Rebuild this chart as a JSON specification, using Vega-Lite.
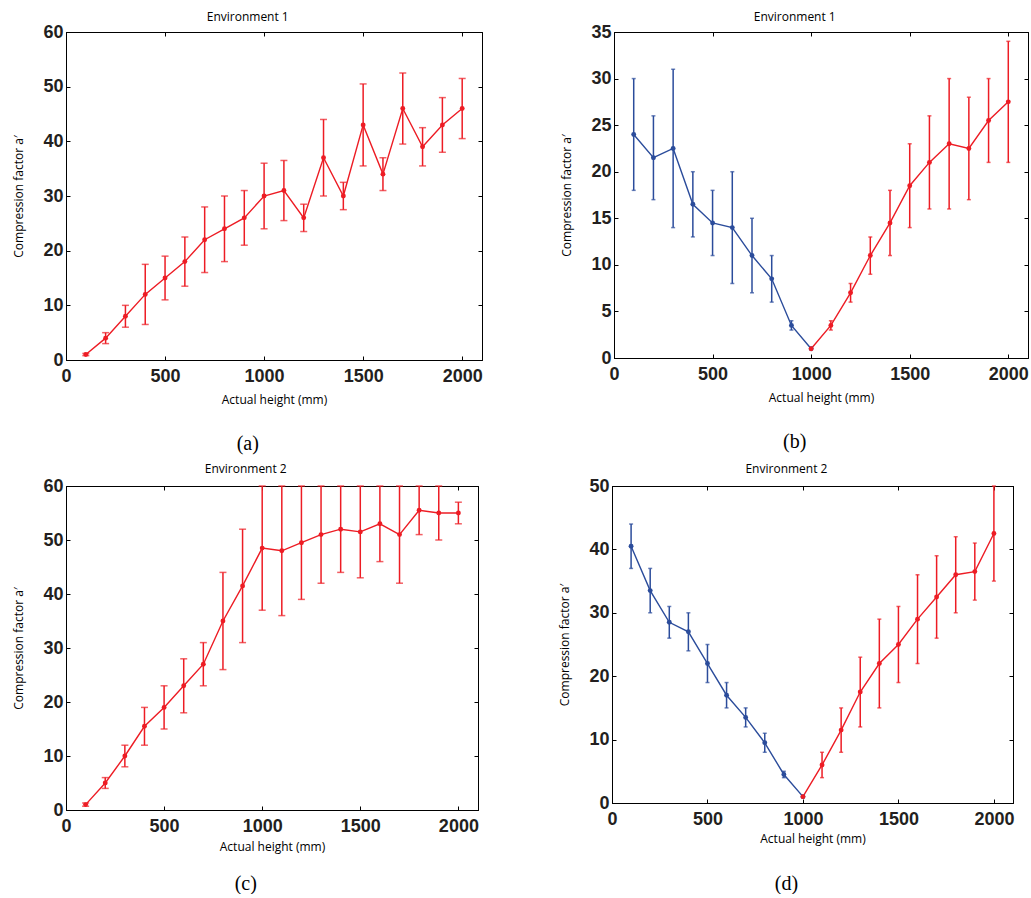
{
  "$schema": "https://vega.github.io/schema/vega-lite/v6.json",
  "background": "white",
  "padding": {"left": 12, "top": 10, "right": 0, "bottom": 0},
  "config": {
    "view": {"stroke": "#000", "strokeWidth": 1},
    "axis": {"domainColor": "#000", "tickColor": "#000", "domainWidth": 1, "tickWidth": 1, "grid": false,
      "labelFont": "Liberation Sans", "labelFontWeight": "bold", "labelFontSize": 18, "labelColor": "#231f20",
      "titleFont": "Open Sans", "titleFontSize": 12, "titleFontWeight": "normal", "titleColor": "#000",
      "tickSize": -4, "labelFlush": false, "labelOverlap": false, "format": "d"},
    "axisX": {"labelPadding": 11, "titlePadding": 9},
    "axisY": {"labelPadding": 7, "titlePadding": 17},
    "axisTop": {"minExtent": 0, "maxExtent": 0, "labels": false, "title": null},
    "axisRight": {"minExtent": 0, "maxExtent": 0, "labels": false, "title": null},
    "title": {"font": "Open Sans", "fontSize": 12, "fontWeight": "normal", "color": "#000", "frame": "bounds", "anchor": "middle"}
  },
  "datasets": {
    "a": [
      {"h": 100, "v": 1, "lo": 0.8, "hi": 1.2},
      {"h": 200, "v": 4, "lo": 3, "hi": 5},
      {"h": 300, "v": 8, "lo": 6, "hi": 10},
      {"h": 400, "v": 12, "lo": 6.5, "hi": 17.5},
      {"h": 500, "v": 15, "lo": 11, "hi": 19},
      {"h": 600, "v": 18, "lo": 13.5, "hi": 22.5},
      {"h": 700, "v": 22, "lo": 16, "hi": 28},
      {"h": 800, "v": 24, "lo": 18, "hi": 30},
      {"h": 900, "v": 26, "lo": 21, "hi": 31},
      {"h": 1000, "v": 30, "lo": 24, "hi": 36},
      {"h": 1100, "v": 31, "lo": 25.5, "hi": 36.5},
      {"h": 1200, "v": 26, "lo": 23.5, "hi": 28.5},
      {"h": 1300, "v": 37, "lo": 30, "hi": 44},
      {"h": 1400, "v": 30, "lo": 27.5, "hi": 32.5},
      {"h": 1500, "v": 43, "lo": 35.5, "hi": 50.5},
      {"h": 1600, "v": 34, "lo": 31, "hi": 37},
      {"h": 1700, "v": 46, "lo": 39.5, "hi": 52.5},
      {"h": 1800, "v": 39, "lo": 35.5, "hi": 42.5},
      {"h": 1900, "v": 43, "lo": 38, "hi": 48},
      {"h": 2000, "v": 46, "lo": 40.5, "hi": 51.5}
    ],
    "b": [
      {"s": "blue", "h": 100, "v": 24, "lo": 18, "hi": 30},
      {"s": "blue", "h": 200, "v": 21.5, "lo": 17, "hi": 26},
      {"s": "blue", "h": 300, "v": 22.5, "lo": 14, "hi": 31},
      {"s": "blue", "h": 400, "v": 16.5, "lo": 13, "hi": 20},
      {"s": "blue", "h": 500, "v": 14.5, "lo": 11, "hi": 18},
      {"s": "blue", "h": 600, "v": 14, "lo": 8, "hi": 20},
      {"s": "blue", "h": 700, "v": 11, "lo": 7, "hi": 15},
      {"s": "blue", "h": 800, "v": 8.5, "lo": 6, "hi": 11},
      {"s": "blue", "h": 900, "v": 3.5, "lo": 3, "hi": 4},
      {"s": "blue", "h": 1000, "v": 1, "lo": null, "hi": null},
      {"s": "red", "h": 1000, "v": 1, "lo": null, "hi": null},
      {"s": "red", "h": 1100, "v": 3.5, "lo": 3, "hi": 4},
      {"s": "red", "h": 1200, "v": 7, "lo": 6, "hi": 8},
      {"s": "red", "h": 1300, "v": 11, "lo": 9, "hi": 13},
      {"s": "red", "h": 1400, "v": 14.5, "lo": 11, "hi": 18},
      {"s": "red", "h": 1500, "v": 18.5, "lo": 14, "hi": 23},
      {"s": "red", "h": 1600, "v": 21, "lo": 16, "hi": 26},
      {"s": "red", "h": 1700, "v": 23, "lo": 16, "hi": 30},
      {"s": "red", "h": 1800, "v": 22.5, "lo": 17, "hi": 28},
      {"s": "red", "h": 1900, "v": 25.5, "lo": 21, "hi": 30},
      {"s": "red", "h": 2000, "v": 27.5, "lo": 21, "hi": 34}
    ],
    "c": [
      {"h": 100, "v": 1, "lo": 0.7, "hi": 1.3},
      {"h": 200, "v": 5, "lo": 4, "hi": 6},
      {"h": 300, "v": 10, "lo": 8, "hi": 12},
      {"h": 400, "v": 15.5, "lo": 12, "hi": 19},
      {"h": 500, "v": 19, "lo": 15, "hi": 23},
      {"h": 600, "v": 23, "lo": 18, "hi": 28},
      {"h": 700, "v": 27, "lo": 23, "hi": 31},
      {"h": 800, "v": 35, "lo": 26, "hi": 44},
      {"h": 900, "v": 41.5, "lo": 31, "hi": 52},
      {"h": 1000, "v": 48.5, "lo": 37, "hi": 60},
      {"h": 1100, "v": 48, "lo": 36, "hi": 60},
      {"h": 1200, "v": 49.5, "lo": 39, "hi": 60},
      {"h": 1300, "v": 51, "lo": 42, "hi": 60},
      {"h": 1400, "v": 52, "lo": 44, "hi": 60},
      {"h": 1500, "v": 51.5, "lo": 43, "hi": 60},
      {"h": 1600, "v": 53, "lo": 46, "hi": 60},
      {"h": 1700, "v": 51, "lo": 42, "hi": 60},
      {"h": 1800, "v": 55.5, "lo": 51, "hi": 60},
      {"h": 1900, "v": 55, "lo": 50, "hi": 60},
      {"h": 2000, "v": 55, "lo": 53, "hi": 57}
    ],
    "d": [
      {"s": "blue", "h": 100, "v": 40.5, "lo": 37, "hi": 44},
      {"s": "blue", "h": 200, "v": 33.5, "lo": 30, "hi": 37},
      {"s": "blue", "h": 300, "v": 28.5, "lo": 26, "hi": 31},
      {"s": "blue", "h": 400, "v": 27, "lo": 24, "hi": 30},
      {"s": "blue", "h": 500, "v": 22, "lo": 19, "hi": 25},
      {"s": "blue", "h": 600, "v": 17, "lo": 15, "hi": 19},
      {"s": "blue", "h": 700, "v": 13.5, "lo": 12, "hi": 15},
      {"s": "blue", "h": 800, "v": 9.5, "lo": 8, "hi": 11},
      {"s": "blue", "h": 900, "v": 4.5, "lo": 4, "hi": 5},
      {"s": "blue", "h": 1000, "v": 1, "lo": null, "hi": null},
      {"s": "red", "h": 1000, "v": 1, "lo": null, "hi": null},
      {"s": "red", "h": 1100, "v": 6, "lo": 4, "hi": 8},
      {"s": "red", "h": 1200, "v": 11.5, "lo": 8, "hi": 15},
      {"s": "red", "h": 1300, "v": 17.5, "lo": 12, "hi": 23},
      {"s": "red", "h": 1400, "v": 22, "lo": 15, "hi": 29},
      {"s": "red", "h": 1500, "v": 25, "lo": 19, "hi": 31},
      {"s": "red", "h": 1600, "v": 29, "lo": 22, "hi": 36},
      {"s": "red", "h": 1700, "v": 32.5, "lo": 26, "hi": 39},
      {"s": "red", "h": 1800, "v": 36, "lo": 30, "hi": 42},
      {"s": "red", "h": 1900, "v": 36.5, "lo": 32, "hi": 41},
      {"s": "red", "h": 2000, "v": 42.5, "lo": 35, "hi": 50}
    ]
  },
  "spacing": 8,
  "vconcat": [
    {
      "spacing": 77,
      "hconcat": [
        {
          "title": {"text": "(a)", "orient": "bottom", "font": "Liberation Serif", "fontSize": 20, "offset": 28},
          "vconcat": [
            {
              "width": 416, "height": 328,
              "title": {"text": "Environment 1", "offset": -1},
              "data": {"name": "a"},
              "resolve": {"axis": {"x": "independent", "y": "independent"}},
              "layer": [
                {
                  "transform": [{"filter": "datum.lo != null"}],
                  "mark": {"type": "errorbar", "ticks": {"size": 7}, "thickness": 1.5, "color": "#ed1c24"},
                  "encoding": {
                    "x": {"field": "h", "type": "quantitative", "scale": {"domain": [0, 2100]}, "axis": null},
                    "y": {"field": "lo", "type": "quantitative", "scale": {"domain": [0, 60]}, "axis": null},
                    "y2": {"field": "hi"}
                  }
                },
                {
                  "mark": {"type": "line", "strokeWidth": 1.4, "color": "#ed1c24"},
                  "encoding": {
                    "x": {"field": "h", "type": "quantitative", "scale": {"domain": [0, 2100]}, "axis": {"title": "Actual height (mm)", "values": [0, 500, 1000, 1500, 2000]}},
                    "y": {"field": "v", "type": "quantitative", "scale": {"domain": [0, 60]}, "axis": {"title": "Compression factor a′", "values": [0, 10, 20, 30, 40, 50, 60]}}
                  }
                },
                {
                  "mark": {"type": "point", "filled": true, "size": 24, "opacity": 1, "color": "#ed1c24"},
                  "encoding": {
                    "x": {"field": "h", "type": "quantitative", "scale": {"domain": [0, 2100]}, "axis": {"orient": "top", "labels": false, "title": null, "minExtent": 0, "maxExtent": 0, "values": [0, 500, 1000, 1500, 2000]}},
                    "y": {"field": "v", "type": "quantitative", "scale": {"domain": [0, 60]}, "axis": {"orient": "right", "labels": false, "title": null, "minExtent": 0, "maxExtent": 0, "values": [0, 10, 20, 30, 40, 50, 60]}}
                  }
                }
              ]
            }
          ]
        },
        {
          "title": {"text": "(b)", "orient": "bottom", "font": "Liberation Serif", "fontSize": 20, "offset": 28},
          "vconcat": [
            {
              "width": 414, "height": 326,
              "title": {"text": "Environment 1", "offset": -1},
              "data": {"name": "b"},
              "resolve": {"axis": {"x": "independent", "y": "independent"}},
              "layer": [
                {
                  "transform": [{"filter": "datum.lo != null"}],
                  "mark": {"type": "errorbar", "ticks": {"size": 4}, "thickness": 1.5},
                  "encoding": {
                    "x": {"field": "h", "type": "quantitative", "scale": {"domain": [0, 2100]}, "axis": null},
                    "y": {"field": "lo", "type": "quantitative", "scale": {"domain": [0, 35]}, "axis": null},
                    "y2": {"field": "hi"},
                    "color": {"field": "s", "type": "nominal", "scale": {"domain": ["blue", "red"], "range": ["#2b4c9b", "#ed1c24"]}, "legend": null}
                  }
                },
                {
                  "mark": {"type": "line", "strokeWidth": 1.4},
                  "encoding": {
                    "x": {"field": "h", "type": "quantitative", "scale": {"domain": [0, 2100]}, "axis": {"title": "Actual height (mm)", "values": [0, 500, 1000, 1500, 2000]}},
                    "y": {"field": "v", "type": "quantitative", "scale": {"domain": [0, 35]}, "axis": {"title": "Compression factor a′", "values": [0, 5, 10, 15, 20, 25, 30, 35]}},
                    "color": {"field": "s", "type": "nominal", "scale": {"domain": ["blue", "red"], "range": ["#2b4c9b", "#ed1c24"]}, "legend": null}
                  }
                },
                {
                  "mark": {"type": "point", "filled": true, "size": 24, "opacity": 1},
                  "encoding": {
                    "x": {"field": "h", "type": "quantitative", "scale": {"domain": [0, 2100]}, "axis": {"orient": "top", "labels": false, "title": null, "minExtent": 0, "maxExtent": 0, "values": [0, 500, 1000, 1500, 2000]}},
                    "y": {"field": "v", "type": "quantitative", "scale": {"domain": [0, 35]}, "axis": {"orient": "right", "labels": false, "title": null, "minExtent": 0, "maxExtent": 0, "values": [0, 5, 10, 15, 20, 25, 30, 35]}},
                    "color": {"field": "s", "type": "nominal", "scale": {"domain": ["blue", "red"], "range": ["#2b4c9b", "#ed1c24"]}, "legend": null}
                  }
                }
              ]
            }
          ]
        }
      ]
    },
    {
      "spacing": 79,
      "hconcat": [
        {
          "title": {"text": "(c)", "orient": "bottom", "font": "Liberation Serif", "fontSize": 20, "offset": 21},
          "vconcat": [
            {
              "width": 412, "height": 324,
              "title": {"text": "Environment 2", "offset": 1},
              "data": {"name": "c"},
              "resolve": {"axis": {"x": "independent", "y": "independent"}},
              "layer": [
                {
                  "transform": [{"filter": "datum.lo != null"}],
                  "mark": {"type": "errorbar", "ticks": {"size": 7}, "thickness": 1.5, "color": "#ed1c24"},
                  "encoding": {
                    "x": {"field": "h", "type": "quantitative", "scale": {"domain": [0, 2100]}, "axis": null},
                    "y": {"field": "lo", "type": "quantitative", "scale": {"domain": [0, 60]}, "axis": null},
                    "y2": {"field": "hi"}
                  }
                },
                {
                  "mark": {"type": "line", "strokeWidth": 1.4, "color": "#ed1c24"},
                  "encoding": {
                    "x": {"field": "h", "type": "quantitative", "scale": {"domain": [0, 2100]}, "axis": {"title": "Actual height (mm)", "values": [0, 500, 1000, 1500, 2000], "titlePadding": 6}},
                    "y": {"field": "v", "type": "quantitative", "scale": {"domain": [0, 60]}, "axis": {"title": "Compression factor a′", "values": [0, 10, 20, 30, 40, 50, 60]}}
                  }
                },
                {
                  "mark": {"type": "point", "filled": true, "size": 24, "opacity": 1, "color": "#ed1c24"},
                  "encoding": {
                    "x": {"field": "h", "type": "quantitative", "scale": {"domain": [0, 2100]}, "axis": {"orient": "top", "labels": false, "title": null, "minExtent": 0, "maxExtent": 0, "values": [0, 500, 1000, 1500, 2000]}},
                    "y": {"field": "v", "type": "quantitative", "scale": {"domain": [0, 60]}, "axis": {"orient": "right", "labels": false, "title": null, "minExtent": 0, "maxExtent": 0, "values": [0, 10, 20, 30, 40, 50, 60]}}
                  }
                }
              ]
            }
          ]
        },
        {
          "title": {"text": "(d)", "orient": "bottom", "font": "Liberation Serif", "fontSize": 20, "offset": 29},
          "vconcat": [
            {
              "width": 401, "height": 317,
              "title": {"text": "Environment 2", "offset": 1},
              "data": {"name": "d"},
              "resolve": {"axis": {"x": "independent", "y": "independent"}},
              "layer": [
                {
                  "transform": [{"filter": "datum.lo != null"}],
                  "mark": {"type": "errorbar", "ticks": {"size": 4}, "thickness": 1.5},
                  "encoding": {
                    "x": {"field": "h", "type": "quantitative", "scale": {"domain": [0, 2100]}, "axis": null},
                    "y": {"field": "lo", "type": "quantitative", "scale": {"domain": [0, 50]}, "axis": null},
                    "y2": {"field": "hi"},
                    "color": {"field": "s", "type": "nominal", "scale": {"domain": ["blue", "red"], "range": ["#2b4c9b", "#ed1c24"]}, "legend": null}
                  }
                },
                {
                  "mark": {"type": "line", "strokeWidth": 1.4},
                  "encoding": {
                    "x": {"field": "h", "type": "quantitative", "scale": {"domain": [0, 2100]}, "axis": {"title": "Actual height (mm)", "values": [0, 500, 1000, 1500, 2000], "titlePadding": 5}},
                    "y": {"field": "v", "type": "quantitative", "scale": {"domain": [0, 50]}, "axis": {"title": "Compression factor a′", "values": [0, 10, 20, 30, 40, 50]}},
                    "color": {"field": "s", "type": "nominal", "scale": {"domain": ["blue", "red"], "range": ["#2b4c9b", "#ed1c24"]}, "legend": null}
                  }
                },
                {
                  "mark": {"type": "point", "filled": true, "size": 24, "opacity": 1},
                  "encoding": {
                    "x": {"field": "h", "type": "quantitative", "scale": {"domain": [0, 2100]}, "axis": {"orient": "top", "labels": false, "title": null, "minExtent": 0, "maxExtent": 0, "values": [0, 500, 1000, 1500, 2000]}},
                    "y": {"field": "v", "type": "quantitative", "scale": {"domain": [0, 50]}, "axis": {"orient": "right", "labels": false, "title": null, "minExtent": 0, "maxExtent": 0, "values": [0, 10, 20, 30, 40, 50]}},
                    "color": {"field": "s", "type": "nominal", "scale": {"domain": ["blue", "red"], "range": ["#2b4c9b", "#ed1c24"]}, "legend": null}
                  }
                }
              ]
            }
          ]
        }
      ]
    }
  ]
}
